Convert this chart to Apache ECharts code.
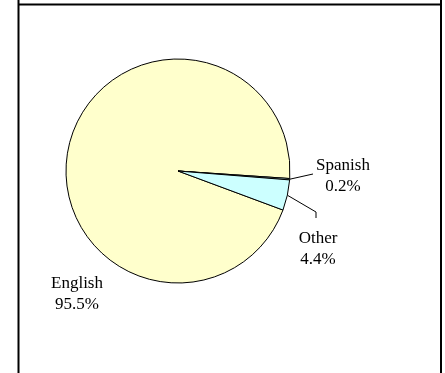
<!DOCTYPE html>
<html>
<head>
<meta charset="utf-8">
<script src="https://cdn.jsdelivr.net/npm/echarts@6/dist/echarts.min.js"></script>
<style>
    html, body {margin: 0; padding: 0; background: #fff;}
    #chartBox {width: 445px; height: 373px;}
</style>
</head>
<body>
<div id="chartBox"></div>
<script>
// 语言占比数据
var names = ['English', 'Spanish', 'Other'];
var values = [95.5, 0.2, 4.4];
var colors = ['#FFFFCC', '#CCFFFF', '#CCFFFF'];

// 标签位置（文字中心）及引导线拐点
var labelPos = [
    {x: 77, y: 294, line: null},
    {x: 343, y: 176, line: [[313, 174]]},
    {x: 318, y: 249, line: [[316, 212], [316, 218]]}
];

function LangChart() {
    var myChart = echarts.init(document.getElementById('chartBox'));
    var data = [];
    for (var i = 0; i < names.length; i++) {
        data.push({
            name: names[i],
            value: values[i],
            itemStyle: {color: colors[i]},
            labelLine: {show: labelPos[i].line != null}
        });
    }
    var option = {
        animation: false,
        graphic: [
            {type: 'line', shape: {x1: 18.5, y1: 0, x2: 18.5, y2: 373}, style: {stroke: '#000', lineWidth: 2}},
            {type: 'line', shape: {x1: 441, y1: 0, x2: 441, y2: 373}, style: {stroke: '#000', lineWidth: 2}},
            {type: 'line', shape: {x1: 18, y1: 4.5, x2: 442, y2: 4.5}, style: {stroke: '#000', lineWidth: 2}}
        ],
        series: [
            {
                type: 'pie',
                center: [178, 171],
                radius: 112,
                startAngle: -20.4,
                clockwise: true,
                avoidLabelOverlap: false,
                itemStyle: {borderColor: '#000', borderWidth: 1},
                label: {
                    show: true,
                    position: 'outside',
                    fontFamily: '"Liberation Serif", "Times New Roman", serif',
                    fontSize: 17,
                    lineHeight: 21,
                    color: '#000',
                    align: 'center',
                    formatter: function (p) {
                        return p.name + '\n' + p.value.toFixed(1) + '%';
                    }
                },
                labelLine: {lineStyle: {color: '#000', width: 1}, length: 10, length2: 10},
                labelLayout: function (p) {
                    var pos = labelPos[p.dataIndex];
                    var res = {x: pos.x, y: pos.y, align: 'center', verticalAlign: 'middle'};
                    if (pos.line && p.labelLinePoints) {
                        res.labelLinePoints = [p.labelLinePoints[0]].concat(pos.line);
                    }
                    return res;
                },
                emphasis: {disabled: true},
                data: data
            }
        ]
    };
    myChart.setOption(option);
}

LangChart();
</script>
</body>
</html>
